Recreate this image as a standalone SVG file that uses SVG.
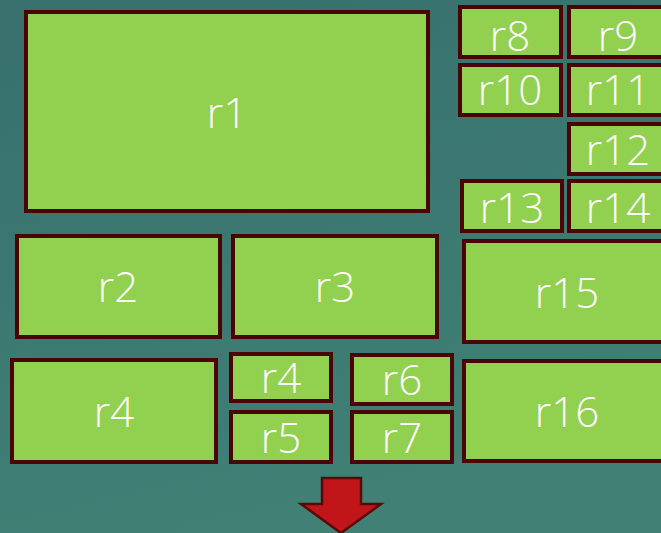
<svg xmlns="http://www.w3.org/2000/svg" width="661" height="533" viewBox="0 0 661 533">
  <defs>
    <linearGradient id="bg" x1="0" y1="0" x2="0.3" y2="1">
      <stop offset="0" stop-color="#37706d"/>
      <stop offset="1" stop-color="#408075"/>
    </linearGradient>
    <style>
      .box { fill: #92d050; stroke: #4a0404; stroke-width: 4; }
      .lbl { fill: #ffffff; font-family: "Open Sans", "DejaVu Sans", sans-serif; font-weight: 300; font-size: 42px; text-anchor: middle; }
      .arrow { fill: #c0161a; stroke: #5a0808; stroke-width: 2.5; stroke-linejoin: miter; }
    </style>
  </defs>

  <rect x="0" y="0" width="661" height="533" fill="url(#bg)"/>

  <g id="r1"><rect class="box" x="26" y="12" width="402" height="199"/><text class="lbl" x="227" y="128">r1</text></g>
  <g id="r2"><rect class="box" x="17" y="236" width="203" height="101"/><text class="lbl" x="118" y="302">r2</text></g>
  <g id="r3"><rect class="box" x="233" y="236" width="204" height="101"/><text class="lbl" x="335" y="302">r3</text></g>
  <g id="r4-large"><rect class="box" x="12" y="360" width="204" height="102"/><text class="lbl" x="114" y="427">r4</text></g>
  <g id="r4-small"><rect class="box" x="231" y="354" width="100" height="47"/><text class="lbl" x="281" y="393">r4</text></g>
  <g id="r5"><rect class="box" x="231" y="412" width="100" height="50"/><text class="lbl" x="281" y="453">r5</text></g>
  <g id="r6"><rect class="box" x="352" y="355" width="100" height="49"/><text class="lbl" x="402" y="395">r6</text></g>
  <g id="r7"><rect class="box" x="352" y="412" width="100" height="50"/><text class="lbl" x="402" y="453">r7</text></g>
  <g id="r8"><rect class="box" x="460" y="7" width="101" height="50"/><text class="lbl" x="510" y="51">r8</text></g>
  <g id="r9"><rect class="box" x="569" y="7" width="101" height="50"/><text class="lbl" x="618" y="51">r9</text></g>
  <g id="r10"><rect class="box" x="460" y="65" width="101" height="50"/><text class="lbl" x="510" y="105">r10</text></g>
  <g id="r11"><rect class="box" x="569" y="65" width="101" height="50"/><text class="lbl" x="618" y="105">r11</text></g>
  <g id="r12"><rect class="box" x="569" y="124" width="101" height="50"/><text class="lbl" x="618" y="165">r12</text></g>
  <g id="r13"><rect class="box" x="462" y="181" width="100" height="50"/><text class="lbl" x="512" y="223">r13</text></g>
  <g id="r14"><rect class="box" x="569" y="181" width="101" height="50"/><text class="lbl" x="618" y="223">r14</text></g>
  <g id="r15"><rect class="box" x="464" y="241" width="206" height="101"/><text class="lbl" x="567" y="308">r15</text></g>
  <g id="r16"><rect class="box" x="464" y="361" width="206" height="100"/><text class="lbl" x="567" y="427">r16</text></g>

  <g id="connectors">
    <path class="arrow" d="M322 478 L361 478 L361 504 L381 504 L341 533 L301 504 L322 504 Z"/>
  </g>
</svg>
